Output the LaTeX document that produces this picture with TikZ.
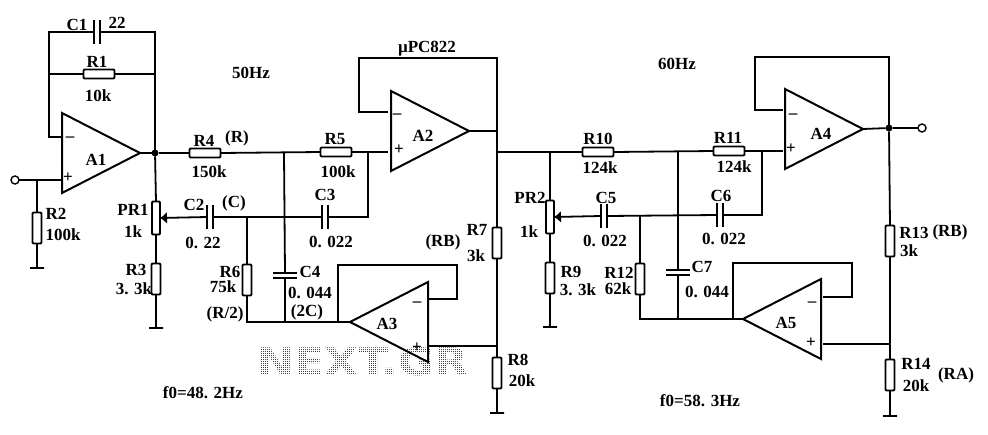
\documentclass[tikz,border=0pt]{standalone}
\usepackage{fontspec}
\setmainfont{Liberation Serif}
\newfontfamily\markfont[FakeStretch=1.16]{DejaVu Sans}
\usetikzlibrary{arrows.meta,shapes.geometric}
\tikzset{
  wire/.style={line width=1.8pt,line join=miter},
  resh/.style={rectangle,draw,line width=1.8pt,rounded corners=1pt,inner sep=0,outer sep=0,minimum width=31,minimum height=9},
  resv/.style={rectangle,draw,line width=1.8pt,rounded corners=1pt,inner sep=0,outer sep=0,minimum width=9,minimum height=31},
  pot/.style={rectangle,draw,line width=1.8pt,rounded corners=1pt,inner sep=0,outer sep=0,minimum width=8,minimum height=33},
  caph/.style={rectangle,inner sep=0,outer sep=0,minimum width=6,minimum height=24},
  capv/.style={rectangle,inner sep=0,outer sep=0,minimum width=24,minimum height=5},
  plate/.style={line width=2pt},
  gnd/.style={rectangle,draw,line width=1.6pt,inner sep=0,outer sep=0,minimum width=14,minimum height=0},
  amp/.style={isosceles triangle,isosceles triangle stretches,draw,line width=2pt,inner sep=0,outer sep=0,minimum width=80,minimum height=78,anchor=apex},
  dot/.style={circle,fill,inner sep=0,outer sep=0,minimum size=7},
  term/.style={circle,draw,line width=1.4pt,fill=white,inner sep=0,outer sep=0,minimum size=8},
  wiper/.style={wire,-{Latex[length=7pt,width=12pt]}}
}
\begin{document}
\begin{tikzpicture}[x=1pt,y=-1pt,every node/.style={font=\bfseries\fontsize{17}{19}\selectfont}]
\useasboundingbox (0,0) rectangle (988,434);
\node[text=black!75,font=\markfont\bfseries\fontsize{38}{44}\selectfont] (mark) at (363,362) {NEXT.GR};
\foreach \i in {0,2,...,210}
  \draw[white,line width=1pt] (258+\i,340) -- (258+\i,384);
\foreach \i in {0,2,...,44}
  \draw[white,line width=1pt] (256,340+\i) -- (470,340+\i);
\node[amp] (A1) at (140,153) {};
\node[amp] (A2) at (469,131) {};
\node[amp] (A4) at (863,129) {};
\node[amp,shape border rotate=180] (A3) at (350,322) {};
\node[amp,shape border rotate=180] (A5) at (743,319) {};
\node[term] (in) at (15,180) {};
\node[term] (out) at (922,128) {};
\node[resh] (R1) at (99,74) {};
\node[resv] (R2) at (37,228) {};
\node[resv] (R3) at (156,279) {};
\node[resh] (R4) at (205,153) {};
\node[resh] (R5) at (336,152) {};
\node[resv] (R6) at (247,280) {};
\node[resv] (R7) at (497,243) {};
\node[resv] (R8) at (497,373) {};
\node[resv] (R9) at (550,278) {};
\node[resh] (R10) at (598,152) {};
\node[resh] (R11) at (729,151) {};
\node[resv] (R12) at (640,279) {};
\node[resv] (R13) at (890,241) {};
\node[resv] (R14) at (890,375) {};
\node[pot] (PR1) at (156,218) {};
\node[pot] (PR2) at (550,217) {};
\node[caph] (C1) at (97,32) {};
\node[caph] (C2) at (210,217) {};
\node[caph] (C3) at (325,217) {};
\node[capv] (C4) at (285,275) {};
\node[caph] (C5) at (604,216) {};
\node[caph] (C6) at (720,215) {};
\node[capv] (C7) at (678,272) {};
\node[gnd] (G2) at (37,268) {};
\node[gnd] (G3) at (156,328) {};
\node[gnd] (G8) at (497,413) {};
\node[gnd] (G9) at (550,327) {};
\node[gnd] (G14) at (890,416) {};
\node[dot] (D1) at (155,153) {};
\node[dot] (D2) at (889,128) {};
\coordinate (A1m) at (61,137);
\coordinate (A1p) at (61,180);
\coordinate (A2m) at (388,112);
\coordinate (A2p) at (388,152);
\coordinate (A3m) at (428,299);
\coordinate (A3p) at (428,346);
\coordinate (A4m) at (783,110);
\coordinate (A4p) at (783,151);
\coordinate (A5m) at (823,297);
\coordinate (A5p) at (823,344);
\coordinate (a1) at (49,32);
\coordinate (a2) at (155,32);
\coordinate (a3) at (49,74);
\coordinate (a4) at (155,74);
\coordinate (a5) at (37,180);
\coordinate (b1) at (284,153);
\coordinate (b2) at (247,217);
\coordinate (b3) at (285,217);
\coordinate (b4) at (368,152);
\coordinate (b5) at (247,322);
\coordinate (b6) at (285,322);
\coordinate (b7) at (338,322);
\coordinate (c1) at (359,58);
\coordinate (c2) at (497,58);
\coordinate (c3) at (497,131);
\coordinate (c4) at (497,152);
\coordinate (c5) at (497,346);
\coordinate (d1) at (550,152);
\coordinate (d2) at (640,216);
\coordinate (d3) at (678,152);
\coordinate (d4) at (678,216);
\coordinate (d5) at (762,151);
\coordinate (d6) at (640,319);
\coordinate (d7) at (678,319);
\coordinate (d8) at (733,319);
\coordinate (e1) at (755,57);
\coordinate (e2) at (889,57);
\coordinate (e3) at (890,344);
\draw[wire] (in) -- (a5) -- (A1p);
\draw[wire] (a5) -- (R2.north);
\draw[wire] (R2.south) -- (G2);
\draw[wire] (A1m) -| (a3) -- (a1) -- (C1.west);
\draw[wire] (C1.east) -- (a2) -- (D1);
\draw[wire] (a3) -- (R1.west);
\draw[wire] (R1.east) -- (a4);
\draw[wire] (A1.apex) -- (D1) -- (R4.west);
\draw[wire] (D1) -- (PR1.north);
\draw[wire] (PR1.south) -- (R3.north);
\draw[wire] (R3.south) -- (G3);
\draw[wiper] (C2.west) -- (PR1.east);
\draw[wire] (R4.east) -- (R5.west);
\draw[wire] (R5.east) -- (A2p);
\draw[wire] (C2.east) -- (C3.west);
\draw[wire] (C3.east) -| (b4);
\draw[wire] (b1) -- (C4.north);
\draw[wire] (C4.south) -- (b6);
\draw[wire] (b2) -- (R6.north);
\draw[wire] (R6.south) -- (b5) -- (A3.apex);
\draw[wire] (b7) |- (A3m |- 0,265) -- ++(29,0) |- (A3m);
\draw[wire] (A2m) -| (c1) -- (c2) -- (c4);
\draw[wire] (A2.apex) -- (c3);
\draw[wire] (c4) -- (R7.north);
\draw[wire] (R7.south) -- (R8.north);
\draw[wire] (R8.south) -- (G8);
\draw[wire] (A3p) -- (c5);
\draw[wire] (c4) -- (R10.west);
\draw[wire] (R10.east) -- (R11.west);
\draw[wire] (R11.east) -- (A4p);
\draw[wire] (d1) -- (PR2.north);
\draw[wire] (PR2.south) -- (R9.north);
\draw[wire] (R9.south) -- (G9);
\draw[wiper] (C5.west) -- (PR2.east);
\draw[wire] (C5.east) -- (C6.west);
\draw[wire] (C6.east) -| (d5);
\draw[wire] (d2) -- (R12.north);
\draw[wire] (R12.south) -- (d6) -- (A5.apex);
\draw[wire] (d3) -- (C7.north);
\draw[wire] (C7.south) -- (d7);
\draw[wire] (d8) |- (A5m |- 0,263) -- ++(29,0) |- (A5m);
\draw[wire] (A4m) -| (e1) -- (e2) -- (D2);
\draw[wire] (A4.apex) -- (D2) -- (out);
\draw[wire] (D2) -- (R13.north);
\draw[wire] (R13.south) -- (R14.north);
\draw[wire] (R14.south) -- (G14);
\draw[wire] (A5p) -- (e3);
\foreach \cap in {C1,C2,C3,C5,C6}
  \draw[plate] (\cap.north west) -- (\cap.south west) (\cap.north east) -- (\cap.south east);
\foreach \cap in {C4,C7}
  \draw[plate] (\cap.north west) -- (\cap.north east) (\cap.south west) -- (\cap.south east);
\node (tA1) at (96,160) {A1};
\node (tA1m) at (70,139) {\textendash};
\node (tA1p) at (68,178) {+};
\node (tA2) at (423,136) {A2};
\node (tA2m) at (397,116) {\textendash};
\node (tA2p) at (399,150) {+};
\node (tA3) at (387,324) {A3};
\node (tA3m) at (417,304) {\textendash};
\node (tA3p) at (417,348) {+};
\node (tA4) at (821,134) {A4};
\node (tA4m) at (793,116) {\textendash};
\node (tA4p) at (791,149) {+};
\node (tA5) at (786,323) {A5};
\node (tA5m) at (812,304) {\textendash};
\node (tA5p) at (811,343) {+};
\node (tC1) at (77,25) {C1};
\node (vC1) at (117,23) {22};
\node (tR1) at (97,62) {R1};
\node (vR1) at (98,96) {10k};
\node (f50) at (251,73) {50Hz};
\node (tR4) at (204,141) {R4};
\node (nR4) at (237,138) {(R)};
\node (vR4) at (209,172) {150k};
\node (tR5) at (335,139) {R5};
\node (vR5) at (338,172) {100k};
\node (tPR1) at (133,210) {PR1};
\node (vPR1) at (133,232) {1k};
\node (tC2) at (194,205) {C2};
\node (nC2) at (234,203) {(C)};
\node (vC2) at (203,243) {0. 22};
\node (tC3) at (325,195) {C3};
\node (vC3) at (331,242) {0. 022};
\node (tR2) at (56,214) {R2};
\node (vR2) at (63,235) {100k};
\node (tR3) at (136,270) {R3};
\node (vR3) at (134,289) {3. 3k};
\node (tR6) at (230,272) {R6};
\node (vR6) at (223,287) {75k};
\node (nR6) at (225,314) {(R/2)};
\node (tC4) at (310,272) {C4};
\node (vC4) at (310,293) {0. 044};
\node (nC4) at (307,312) {(2C)};
\node (f482) at (203,393) {f0=48. 2Hz};
\node (chip) at (427,49) {µPC822};
\node (nR7) at (443,242) {(RB)};
\node (tR7) at (477,230) {R7};
\node (vR7) at (476,256) {3k};
\node (tR8) at (518,360) {R8};
\node (vR8) at (522,381) {20k};
\node (tPR2) at (530,198) {PR2};
\node (vPR2) at (529,232) {1k};
\node (tR9) at (571,272) {R9};
\node (vR9) at (578,290) {3. 3k};
\node (tR10) at (598,139) {R10};
\node (vR10) at (600,168) {124k};
\node (tC5) at (606,198) {C5};
\node (vC5) at (605,241) {0. 022};
\node (tR12) at (619,273) {R12};
\node (vR12) at (618,289) {62k};
\node (f60) at (677,64) {60Hz};
\node (tR11) at (728,138) {R11};
\node (vR11) at (734,167) {124k};
\node (tC6) at (721,196) {C6};
\node (vC6) at (724,239) {0. 022};
\node (tC7) at (702,267) {C7};
\node (vC7) at (707,292) {0. 044};
\node (f583) at (700,401) {f0=58. 3Hz};
\node (tR13) at (914,233) {R13};
\node (nR13) at (950,232) {(RB)};
\node (vR13) at (909,251) {3k};
\node (tR14) at (916,364) {R14};
\node (vR14) at (916,386) {20k};
\node (nR14) at (956,375) {(RA)};
\end{tikzpicture}
\end{document}
